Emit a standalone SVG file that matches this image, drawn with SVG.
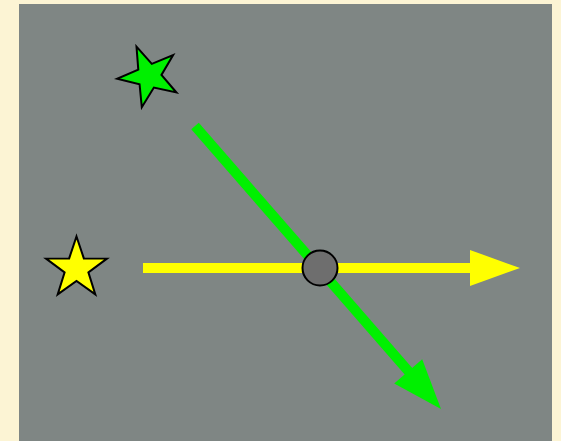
<svg xmlns="http://www.w3.org/2000/svg" xmlns:xlink="http://www.w3.org/1999/xlink" width="561" height="441" viewBox="0 0 561 441">
  <style>
    .star { stroke: #000; stroke-width: 2; stroke-linejoin: miter; }
    .conn { fill: none; stroke-width: 10; stroke-linecap: butt; }
  </style>
  <defs>
    <path id="starShape" d="M0,-32 L7.35,-10.11 L30.43,-9.89 L11.89,3.86 L18.81,25.89 L0,12.5 L-18.81,25.89 L-11.89,3.86 L-30.43,-9.89 L-7.35,-10.11 Z"/>
  </defs>
  <rect x="0" y="0" width="561" height="441" fill="#fcf4d4"/>
  <rect x="19" y="4" width="533" height="440" fill="#7f8684"/>
  <g id="connectors">
    <line class="conn" x1="143" y1="268" x2="472" y2="268" stroke="#ffff00"/>
    <polygon points="470,250 520,268 470,286" fill="#ffff00"/>
    <line class="conn" x1="195" y1="126" x2="410" y2="373" stroke="#00f000"/>
    <polygon points="394.2,383.4 441,409 422.2,359.2" fill="#00f000"/>
  </g>
  <g id="green-star">
    <use xlink:href="#starShape" class="star" fill="#00f000" transform="translate(149,76) rotate(-23)"/>
  </g>
  <g id="yellow-star">
    <use xlink:href="#starShape" class="star" fill="#ffff00" transform="translate(76.5,268.5)"/>
  </g>
  <g id="center-node">
    <circle cx="320" cy="268" r="17.5" fill="#6e6e6e" stroke="#000" stroke-width="2"/>
  </g>
</svg>
